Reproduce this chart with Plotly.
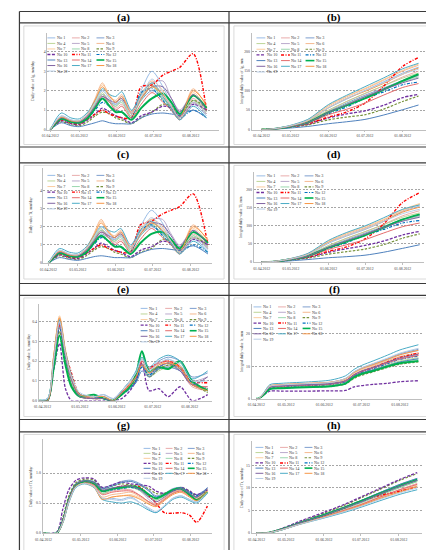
import plotly.graph_objects as go

W, H = 434, 550

SERIES = ["No 1", "No 2", "No 3", "No 4", "No 5", "No 6", "No 7", "No 8", "No 9", "No 10",
          "No 11", "No 12", "No 13", "No 14", "No 15", "No 16", "No 17", "No 18", "No 19"]
DATE_LABELS = ["01.04.2012", "01.05.2012", "01.06.2012", "01.07.2012", "01.08.2012"]

# ---------------- (a) daily Ig ----------------
X_A = [0, 9, 17, 24, 31, 37, 43, 49, 54, 59, 67, 75, 84, 93, 100, 107, 118, 129]
A_IG = [
    [0, 0.7, 0.5, 0.45, 0.8, 1.4, 2.0, 1.6, 1.3, 1.5, 0.9, 2.0, 3.0, 2.2, 1.3, 0.6, 1.3, 0.7],
    [0, 0.6, 0.4, 0.35, 0.6, 1.2, 1.8, 1.5, 1.1, 1.3, 0.7, 1.6, 2.3, 1.7, 1.1, 0.6, 1.6, 0.9],
    [0, 0.55, 0.4, 0.35, 0.6, 1.1, 1.6, 1.4, 1.3, 1.5, 0.8, 1.5, 2.0, 1.6, 1.2, 0.7, 1.4, 0.8],
    [0, 0.6, 0.45, 0.4, 0.7, 1.3, 1.9, 1.4, 1.2, 1.5, 0.6, 1.7, 2.3, 1.5, 1.0, 0.5, 1.5, 0.8],
    [0, 0.5, 0.35, 0.3, 0.6, 1.2, 1.8, 1.5, 1.4, 1.7, 0.9, 1.8, 2.4, 2.5, 1.6, 1.0, 1.8, 1.1],
    [0, 0.6, 0.4, 0.4, 0.8, 1.6, 2.4, 1.7, 1.5, 1.8, 0.9, 1.8, 2.5, 2.0, 1.2, 0.7, 2.1, 1.2],
    [0, 0.6, 0.45, 0.45, 0.8, 1.5, 2.3, 1.8, 1.4, 1.6, 0.8, 1.9, 2.4, 1.8, 1.1, 0.6, 1.9, 1.1],
    [0, 0.55, 0.4, 0.4, 0.7, 1.3, 1.8, 1.4, 1.2, 1.4, 0.7, 1.5, 2.2, 1.6, 1.1, 0.6, 1.5, 0.9],
    [0, 0.4, 0.25, 0.2, 0.4, 0.7, 0.9, 0.8, 0.6, 0.5, 0.3, 0.6, 0.9, 1.3, 1.2, 0.7, 1.5, 1.1],
    [0, 0.45, 0.3, 0.25, 0.5, 0.8, 1.1, 0.9, 0.7, 0.6, 0.35, 0.7, 0.9, 1.2, 1.1, 0.7, 1.3, 1.0],
    [0, 0.5, 0.35, 0.3, 0.55, 0.8, 1.0, 0.8, 0.7, 0.6, 0.6, 2.2, 2.3, 2.8, 3.0, 3.2, 3.9, 1.0],
    [0, 0.55, 0.4, 0.35, 0.6, 1.0, 1.4, 1.2, 1.0, 0.9, 0.6, 1.9, 2.1, 1.5, 1.0, 0.6, 1.0, 0.6],
    [0, 0.35, 0.2, 0.15, 0.25, 0.35, 0.45, 0.35, 0.3, 0.3, 0.3, 0.6, 0.8, 0.85, 0.8, 0.75, 1.0, 0.6],
    [0, 0.55, 0.4, 0.4, 0.7, 1.2, 1.7, 1.4, 1.0, 1.2, 0.6, 1.3, 1.9, 1.4, 1.0, 0.5, 1.4, 0.8],
    [0, 0.55, 0.4, 0.35, 0.6, 1.1, 1.6, 1.2, 0.9, 0.9, 0.5, 1.1, 1.6, 1.85, 1.4, 0.8, 1.75, 1.1],
    [0, 0.6, 0.45, 0.4, 0.7, 1.2, 1.7, 1.5, 1.4, 1.6, 0.8, 1.6, 2.2, 2.2, 1.6, 0.9, 1.8, 1.0],
    [0, 0.85, 0.6, 0.55, 0.9, 1.5, 2.1, 1.8, 1.7, 1.95, 1.0, 1.8, 2.4, 1.7, 1.1, 0.5, 1.2, 0.6],
    [0, 0.65, 0.45, 0.45, 0.8, 1.5, 2.2, 1.7, 1.4, 1.7, 0.8, 1.6, 2.2, 1.8, 1.2, 0.6, 2.0, 1.3],
    [0, 0.7, 0.5, 0.45, 0.8, 1.4, 2.0, 1.6, 1.3, 1.5, 0.8, 1.7, 2.6, 1.9, 1.2, 0.6, 1.4, 0.8],
]

# ---------------- (b) integral Ig ----------------
X_B = [0, 6, 15, 24, 38, 55, 70, 85, 100, 116, 129]
B_IG = [
    [0, 0.5, 4, 10, 22, 55, 78, 100, 122, 145, 160],
    [0, 0.5, 4, 9, 20, 48, 72, 92, 112, 135, 150],
    [0, 0.4, 3.5, 8, 19, 46, 68, 88, 106, 126, 140],
    [0, 0.5, 4, 9, 21, 50, 72, 93, 112, 132, 145],
    [0, 0.4, 3.5, 8, 18, 42, 64, 85, 105, 125, 138],
    [0, 0.5, 4.5, 10, 24, 60, 84, 104, 126, 150, 165],
    [0, 0.5, 4.5, 10, 25, 62, 86, 106, 128, 152, 168],
    [0, 0.4, 3.5, 8, 19, 45, 66, 85, 102, 122, 135],
    [0, 0.3, 2.5, 6, 12, 25, 32, 38, 52, 72, 86],
    [0, 0.3, 2.8, 7, 14, 30, 40, 48, 62, 82, 90],
    [0, 0.4, 3, 7, 15, 32, 45, 68, 110, 162, 185],
    [0, 0.4, 3.2, 8, 17, 40, 58, 80, 96, 115, 122],
    [0, 0.2, 1.5, 4, 8, 15, 20, 26, 37, 51, 63],
    [0, 0.4, 3.2, 7.5, 16, 38, 52, 68, 88, 108, 118],
    [0, 0.4, 3.5, 8, 18, 44, 62, 80, 102, 125, 142],
    [0, 0.4, 3.5, 8, 18, 44, 64, 84, 102, 120, 132],
    [0, 0.6, 5, 11, 26, 64, 88, 110, 132, 156, 170],
    [0, 0.5, 4, 9.5, 22, 56, 80, 98, 118, 142, 158],
    [0, 0.5, 4.2, 10, 23, 56, 80, 100, 120, 142, 155],
]

# ---------------- (c) daily Ti ----------------
X_C = [0, 9, 17, 24, 31, 37, 43, 49, 54, 59, 67, 75, 84, 93, 100, 107, 118, 130]
C_TI = [
    [0, 0.7, 0.5, 0.45, 0.8, 1.4, 2.0, 1.6, 1.3, 1.5, 0.9, 2.0, 2.9, 2.2, 1.3, 0.6, 1.3, 0.7],
    [0, 0.6, 0.4, 0.35, 0.6, 1.2, 1.8, 1.5, 1.1, 1.3, 0.7, 1.6, 2.3, 1.7, 1.1, 0.6, 1.6, 0.9],
    [0, 0.55, 0.4, 0.35, 0.6, 1.1, 1.6, 1.4, 1.3, 1.5, 0.8, 1.5, 2.0, 1.6, 1.2, 0.7, 1.4, 0.8],
    [0, 0.6, 0.45, 0.4, 0.7, 1.3, 1.9, 1.4, 1.2, 1.5, 0.6, 1.7, 2.2, 1.5, 1.0, 0.5, 1.5, 0.8],
    [0, 0.5, 0.35, 0.3, 0.6, 1.2, 1.8, 1.5, 1.4, 1.7, 0.9, 1.8, 2.4, 2.4, 1.6, 1.0, 1.8, 1.0],
    [0, 0.6, 0.4, 0.4, 0.8, 1.6, 2.4, 1.7, 1.5, 1.8, 0.9, 1.8, 2.4, 2.0, 1.2, 0.7, 2.1, 1.2],
    [0, 0.6, 0.45, 0.45, 0.8, 1.5, 2.3, 1.8, 1.4, 1.6, 0.8, 1.9, 2.4, 1.8, 1.1, 0.6, 1.9, 1.1],
    [0, 0.55, 0.4, 0.4, 0.7, 1.3, 1.8, 1.4, 1.2, 1.4, 0.7, 1.5, 2.1, 1.6, 1.1, 0.6, 1.5, 0.9],
    [0, 0.4, 0.25, 0.2, 0.4, 0.7, 0.9, 0.8, 0.6, 0.5, 0.3, 0.6, 0.8, 1.3, 1.2, 0.7, 1.4, 1.0],
    [0, 0.45, 0.3, 0.25, 0.5, 0.8, 1.1, 0.9, 0.7, 0.6, 0.35, 0.7, 0.9, 1.2, 1.1, 0.7, 1.3, 1.0],
    [0, 0.5, 0.35, 0.3, 0.55, 0.8, 1.0, 0.8, 0.7, 0.6, 0.6, 2.1, 2.3, 2.7, 2.9, 3.1, 3.8, 1.0],
    [0, 0.55, 0.4, 0.35, 0.6, 1.0, 1.4, 1.2, 1.0, 0.9, 0.6, 1.8, 2.1, 1.5, 1.0, 0.6, 1.0, 0.6],
    [0, 0.3, 0.2, 0.15, 0.25, 0.35, 0.4, 0.35, 0.3, 0.3, 0.3, 0.55, 0.75, 0.8, 0.75, 0.7, 0.95, 0.5],
    [0, 0.55, 0.4, 0.4, 0.7, 1.2, 1.7, 1.4, 1.0, 1.2, 0.6, 1.3, 1.9, 1.4, 1.0, 0.5, 1.4, 0.8],
    [0, 0.55, 0.4, 0.35, 0.6, 1.1, 1.5, 1.2, 0.9, 0.9, 0.5, 1.1, 1.6, 1.7, 1.3, 0.8, 1.7, 1.1],
    [0, 0.6, 0.45, 0.4, 0.7, 1.2, 1.7, 1.5, 1.4, 1.6, 0.8, 1.6, 2.2, 2.1, 1.5, 0.9, 1.8, 1.0],
    [0, 0.8, 0.6, 0.55, 0.9, 1.5, 2.0, 1.8, 1.7, 1.9, 1.0, 1.8, 2.3, 1.7, 1.1, 0.5, 1.2, 0.6],
    [0, 0.65, 0.45, 0.45, 0.8, 1.5, 2.2, 1.7, 1.4, 1.7, 0.8, 1.6, 2.2, 1.8, 1.2, 0.6, 2.0, 1.3],
    [0, 0.7, 0.5, 0.45, 0.8, 1.4, 2.0, 1.6, 1.3, 1.5, 0.8, 1.7, 2.5, 1.9, 1.2, 0.6, 1.4, 0.8],
]

# ---------------- (d) integral Ti ----------------
X_D = [0, 6, 15, 24, 38, 55, 70, 85, 100, 116, 130]
D_TI = [
    [0, 0.5, 4, 9, 20, 52, 72, 90, 112, 140, 155],
    [0, 0.5, 3.5, 8.5, 18, 45, 66, 84, 104, 128, 142],
    [0, 0.4, 3.2, 8, 17, 42, 62, 80, 98, 118, 130],
    [0, 0.5, 3.5, 8.5, 19, 46, 66, 84, 103, 124, 136],
    [0, 0.4, 3.2, 7.5, 16, 40, 58, 78, 96, 116, 128],
    [0, 0.5, 4, 9.5, 22, 56, 78, 95, 116, 142, 160],
    [0, 0.5, 4.2, 9.5, 23, 58, 80, 98, 118, 145, 162],
    [0, 0.4, 3.2, 7.5, 17, 42, 60, 78, 95, 114, 126],
    [0, 0.3, 2.2, 5.5, 11, 22, 29, 36, 48, 66, 78],
    [0, 0.3, 2.5, 6.5, 13, 27, 37, 46, 58, 75, 85],
    [0, 0.4, 2.8, 6.5, 14, 30, 42, 64, 104, 165, 192],
    [0, 0.4, 3, 7.5, 16, 37, 54, 74, 90, 108, 115],
    [0, 0.2, 1.4, 3.5, 7, 12, 15, 19, 27, 38, 48],
    [0, 0.4, 3, 7, 15, 35, 48, 62, 80, 98, 108],
    [0, 0.4, 3.2, 7.5, 17, 40, 57, 74, 95, 118, 132],
    [0, 0.4, 3.2, 7.5, 17, 41, 59, 77, 95, 113, 124],
    [0, 0.6, 4.5, 10, 24, 60, 82, 100, 122, 146, 158],
    [0, 0.5, 3.8, 9, 21, 54, 74, 92, 112, 138, 152],
    [0, 0.5, 3.8, 9, 21, 53, 74, 92, 112, 134, 146],
]

# ---------------- (e) daily Ie ----------------
X_E = [-10, -3, 2, 7, 12, 17, 24, 36, 44, 52, 59, 66, 71, 76, 82, 90, 98, 108, 118, 131]
E_IE = [
    [0, 0.01, 0.2, 0.39, 0.23, 0.11, 0.03, 0.01, 0.02, 0, 0.04, 0.09, 0.13, 0.2, 0.15, 0.18, 0.21, 0.16, 0.08, 0.07],
    [0, 0, 0.18, 0.38, 0.22, 0.1, 0.02, 0.01, 0.01, 0, 0.03, 0.07, 0.12, 0.19, 0.14, 0.16, 0.18, 0.15, 0.07, 0.05],
    [0, 0, 0.2, 0.4, 0.24, 0.12, 0.03, 0.02, 0.03, 0.01, 0.05, 0.1, 0.14, 0.2, 0.16, 0.2, 0.22, 0.2, 0.12, 0.14],
    [0, 0, 0.18, 0.37, 0.21, 0.09, 0.02, 0.01, 0.01, 0, 0.03, 0.07, 0.1, 0.18, 0.12, 0.15, 0.17, 0.16, 0.08, 0.06],
    [0, 0, 0.19, 0.38, 0.22, 0.1, 0.02, 0.02, 0.01, 0, 0.04, 0.08, 0.12, 0.17, 0.13, 0.17, 0.19, 0.17, 0.1, 0.12],
    [0, 0, 0.22, 0.42, 0.25, 0.12, 0.03, 0.02, 0.02, 0, 0.04, 0.09, 0.13, 0.21, 0.15, 0.19, 0.2, 0.18, 0.09, 0.06],
    [0, 0, 0.22, 0.43, 0.26, 0.13, 0.03, 0.02, 0.02, 0, 0.04, 0.08, 0.12, 0.19, 0.14, 0.18, 0.2, 0.17, 0.08, 0.05],
    [0, 0, 0.17, 0.35, 0.2, 0.09, 0.02, 0.02, 0.01, 0, 0.03, 0.07, 0.11, 0.22, 0.13, 0.16, 0.18, 0.19, 0.09, 0.05],
    [0, 0, 0.17, 0.35, 0.2, 0.08, 0.02, 0.01, 0.01, 0, 0.03, 0.07, 0.1, 0.18, 0.12, 0.16, 0.18, 0.17, 0.09, 0.04],
    [0, 0, 0.15, 0.29, 0.06, 0, 0, 0, 0, 0, 0.01, 0.05, 0.1, 0.19, 0.05, 0.06, 0.02, 0.07, 0.0, 0.03],
    [0, 0, 0.18, 0.38, 0.24, 0.14, 0.03, 0.02, 0.01, 0, 0.04, 0.08, 0.12, 0.2, 0.17, 0.19, 0.2, 0.17, 0.1, 0.09],
    [0, 0, 0.18, 0.37, 0.22, 0.11, 0.03, 0.02, 0.01, 0, 0.03, 0.06, 0.1, 0.17, 0.13, 0.17, 0.19, 0.16, 0.09, 0.06],
    [0, 0, 0.2, 0.41, 0.24, 0.12, 0.03, 0.02, 0.01, 0, 0.04, 0.06, 0.09, 0.15, 0.12, 0.16, 0.17, 0.15, 0.08, 0.05],
    [0, 0, 0.19, 0.39, 0.23, 0.11, 0.03, 0.01, 0.01, 0, 0.03, 0.08, 0.13, 0.2, 0.16, 0.19, 0.2, 0.16, 0.08, 0.07],
    [0, 0, 0.16, 0.33, 0.18, 0.07, 0.02, 0.03, 0.01, 0, 0.03, 0.07, 0.13, 0.25, 0.15, 0.17, 0.16, 0.2, 0.1, 0.05],
    [0, 0, 0.19, 0.39, 0.23, 0.11, 0.02, 0.01, 0.01, 0, 0.04, 0.08, 0.12, 0.18, 0.14, 0.17, 0.19, 0.15, 0.08, 0.12],
    [0, 0.01, 0.21, 0.41, 0.25, 0.13, 0.03, 0.02, 0.02, 0, 0.05, 0.1, 0.15, 0.22, 0.17, 0.21, 0.23, 0.2, 0.11, 0.15],
    [0, 0, 0.22, 0.42, 0.25, 0.12, 0.03, 0.02, 0.02, 0, 0.04, 0.08, 0.12, 0.18, 0.14, 0.18, 0.19, 0.17, 0.08, 0.05],
    [0, 0.01, 0.2, 0.4, 0.24, 0.12, 0.04, 0.02, 0.03, 0.01, 0.05, 0.1, 0.14, 0.21, 0.15, 0.19, 0.21, 0.18, 0.1, 0.1],
]

# ---------------- (f) integral Ie ----------------
X_F = [0, 2, 6, 11, 20, 40, 60, 72, 79, 85, 95, 106, 116, 131]
F_IE = [
    [0, 0, 1.5, 3.6, 4.0, 4.4, 4.9, 6.0, 8.0, 9.2, 10.5, 12.0, 13.5, 14.8],
    [0, 0, 1.4, 3.4, 3.8, 4.1, 4.5, 5.5, 7.4, 8.5, 9.8, 11.3, 12.6, 13.6],
    [0, 0, 1.5, 3.7, 4.1, 4.5, 5.0, 6.2, 8.2, 9.4, 10.8, 12.3, 13.8, 15.2],
    [0, 0, 1.3, 3.2, 3.5, 3.8, 4.2, 5.0, 6.8, 7.8, 9.0, 10.4, 11.6, 12.6],
    [0, 0, 1.4, 3.4, 3.7, 4.0, 4.4, 5.3, 7.1, 8.2, 9.4, 10.9, 12.1, 13.2],
    [0, 0, 1.6, 3.8, 4.2, 4.6, 5.0, 6.0, 7.9, 9.0, 10.3, 11.7, 13.0, 14.1],
    [0, 0, 1.6, 3.9, 4.3, 4.6, 5.0, 5.9, 7.8, 8.9, 10.1, 11.5, 12.8, 13.8],
    [0, 0, 1.3, 3.1, 3.4, 3.7, 4.0, 4.8, 6.5, 7.5, 8.7, 10.0, 11.2, 12.1],
    [0, 0, 1.2, 3.0, 3.3, 3.5, 3.8, 4.5, 6.2, 7.2, 8.3, 9.6, 10.6, 11.3],
    [0, 0, 1.1, 2.3, 2.3, 2.3, 2.4, 2.5, 3.6, 4.0, 4.4, 4.7, 5.2, 5.5],
    [0, 0, 1.4, 3.5, 3.9, 4.2, 4.5, 5.4, 7.2, 8.3, 9.7, 11.3, 12.7, 14.0],
    [0, 0, 1.4, 3.4, 3.7, 4.0, 4.4, 5.2, 7.0, 8.1, 9.3, 10.8, 12.1, 13.1],
    [0, 0, 1.5, 3.6, 4.0, 4.3, 4.6, 5.3, 7.0, 7.9, 8.9, 10.2, 11.3, 12.3],
    [0, 0, 1.4, 3.5, 3.8, 4.1, 4.5, 5.4, 7.3, 8.4, 9.6, 11.0, 12.2, 13.3],
    [0, 0, 1.2, 2.9, 3.2, 3.5, 3.8, 4.6, 6.6, 7.6, 8.6, 9.9, 10.9, 11.6],
    [0, 0, 1.5, 3.5, 3.9, 4.2, 4.6, 5.5, 7.4, 8.5, 9.7, 11.2, 12.5, 13.7],
    [0, 0, 1.8, 4.3, 4.7, 5.1, 5.7, 7.0, 9.0, 10.2, 11.7, 13.4, 15.0, 16.6],
    [0, 0, 1.6, 3.9, 4.3, 4.7, 5.1, 6.1, 8.1, 9.3, 10.6, 12.1, 13.5, 14.9],
    [0, 0, 1.6, 3.8, 4.2, 4.6, 5.0, 6.2, 8.3, 9.5, 10.9, 12.5, 14.0, 15.5],
]

# ---------------- (g) daily Ts ----------------
X_G = [-8, 4, 9, 14, 20, 27, 35, 42, 50, 58, 66, 74, 81, 87, 94, 101, 108, 115, 121, 130]
G_TS = [
    [0, 0, 0.18, 0.52, 0.78, 0.84, 0.78, 0.58, 0.58, 0.56, 0.6, 0.5, 0.4, 0.34, 0.45, 0.58, 0.62, 0.56, 0.52, 0.68],
    [0, 0, 0.2, 0.55, 0.8, 0.86, 0.82, 0.66, 0.7, 0.72, 0.72, 0.62, 0.52, 0.48, 0.58, 0.68, 0.72, 0.64, 0.58, 0.72],
    [0, 0, 0.22, 0.58, 0.83, 0.88, 0.86, 0.76, 0.8, 0.86, 0.88, 0.82, 0.72, 0.62, 0.66, 0.74, 0.76, 0.68, 0.64, 0.75],
    [0, 0, 0.2, 0.55, 0.8, 0.86, 0.82, 0.66, 0.72, 0.74, 0.76, 0.7, 0.6, 0.55, 0.62, 0.7, 0.74, 0.66, 0.6, 0.72],
    [0, 0, 0.21, 0.56, 0.82, 0.88, 0.84, 0.7, 0.74, 0.78, 0.78, 0.7, 0.56, 0.48, 0.56, 0.66, 0.72, 0.66, 0.6, 0.74],
    [0, 0, 0.19, 0.53, 0.79, 0.84, 0.78, 0.6, 0.64, 0.66, 0.68, 0.6, 0.52, 0.48, 0.58, 0.68, 0.72, 0.64, 0.58, 0.73],
    [0, 0, 0.19, 0.53, 0.78, 0.83, 0.76, 0.56, 0.6, 0.62, 0.64, 0.58, 0.5, 0.46, 0.56, 0.66, 0.7, 0.62, 0.56, 0.7],
    [0, 0, 0.2, 0.55, 0.8, 0.86, 0.82, 0.67, 0.72, 0.76, 0.77, 0.7, 0.6, 0.55, 0.62, 0.7, 0.74, 0.66, 0.6, 0.72],
    [0, 0, 0.26, 0.62, 0.84, 0.9, 0.88, 0.74, 0.78, 0.82, 0.8, 0.78, 0.74, 0.66, 0.66, 0.72, 0.76, 0.7, 0.62, 0.7],
    [0, 0.02, 0.4, 0.72, 0.88, 0.92, 0.9, 0.76, 0.8, 0.85, 0.82, 0.8, 0.78, 0.7, 0.66, 0.7, 0.76, 0.7, 0.64, 0.72],
    [0, 0, 0.2, 0.55, 0.8, 0.86, 0.82, 0.7, 0.74, 0.78, 0.78, 0.76, 0.62, 0.5, 0.34, 0.33, 0.34, 0.3, 0.18, 0.45],
    [0, 0, 0.2, 0.55, 0.8, 0.86, 0.83, 0.7, 0.72, 0.74, 0.76, 0.72, 0.64, 0.6, 0.64, 0.7, 0.74, 0.68, 0.62, 0.74],
    [0, 0, 0.21, 0.56, 0.81, 0.87, 0.85, 0.74, 0.78, 0.84, 0.86, 0.8, 0.7, 0.6, 0.64, 0.72, 0.76, 0.66, 0.6, 0.76],
    [0, 0, 0.2, 0.54, 0.79, 0.85, 0.8, 0.64, 0.68, 0.7, 0.7, 0.62, 0.52, 0.46, 0.56, 0.66, 0.7, 0.62, 0.56, 0.7],
    [0, 0, 0.2, 0.55, 0.8, 0.86, 0.83, 0.7, 0.74, 0.76, 0.78, 0.74, 0.64, 0.58, 0.64, 0.72, 0.74, 0.64, 0.55, 0.68],
    [0, 0, 0.21, 0.56, 0.81, 0.87, 0.84, 0.72, 0.75, 0.78, 0.78, 0.72, 0.6, 0.52, 0.6, 0.7, 0.74, 0.66, 0.6, 0.74],
    [0, 0, 0.17, 0.5, 0.76, 0.82, 0.76, 0.56, 0.52, 0.5, 0.52, 0.46, 0.38, 0.34, 0.44, 0.56, 0.6, 0.54, 0.5, 0.66],
    [0, 0, 0.18, 0.52, 0.78, 0.83, 0.77, 0.56, 0.6, 0.62, 0.62, 0.56, 0.48, 0.44, 0.54, 0.64, 0.68, 0.6, 0.54, 0.7],
    [0, 0, 0.18, 0.52, 0.77, 0.83, 0.77, 0.58, 0.56, 0.54, 0.58, 0.5, 0.42, 0.36, 0.46, 0.58, 0.62, 0.56, 0.52, 0.67],
]

# ---------------- (h) integral Ts ----------------
X_H = [0, 8, 20, 35, 56, 72, 86, 100, 117, 131]
H_TS = [
    [0, 0, 0.7, 2.0, 3.6, 4.9, 6.2, 7.6, 9.2, 10.4],
    [0, 0, 0.75, 2.1, 3.8, 5.2, 6.5, 8.0, 9.7, 11.0],
    [0, 0, 0.8, 2.3, 4.2, 5.8, 7.3, 8.9, 10.8, 12.1],
    [0, 0, 0.75, 2.1, 3.9, 5.4, 6.8, 8.3, 10.1, 11.4],
    [0, 0, 0.8, 2.2, 4.0, 5.5, 6.9, 8.4, 10.2, 11.6],
    [0, 0, 0.7, 2.0, 3.7, 5.0, 6.4, 7.8, 9.4, 10.7],
    [0, 0, 0.7, 2.0, 3.6, 4.9, 6.2, 7.6, 9.2, 10.5],
    [0, 0, 0.75, 2.1, 3.9, 5.4, 6.8, 8.3, 10.1, 11.4],
    [0, 0, 0.85, 2.4, 4.5, 6.2, 7.9, 9.6, 11.7, 13.2],
    [0, 0.02, 0.95, 2.6, 4.7, 6.4, 8.1, 9.8, 11.9, 13.4],
    [0, 0, 0.75, 2.2, 4.0, 5.6, 7.2, 8.3, 9.3, 10.2],
    [0, 0, 0.8, 2.2, 4.0, 5.6, 7.0, 8.6, 10.4, 11.8],
    [0, 0, 0.8, 2.3, 4.2, 5.8, 7.3, 8.9, 10.8, 12.1],
    [0, 0, 0.72, 2.0, 3.7, 5.1, 6.4, 7.9, 9.6, 10.8],
    [0, 0, 0.8, 2.2, 4.1, 5.7, 7.2, 8.7, 10.5, 11.8],
    [0, 0, 0.8, 2.2, 4.0, 5.6, 7.0, 8.6, 10.4, 11.7],
    [0, 0, 0.65, 1.9, 3.4, 4.6, 5.8, 7.1, 8.6, 9.6],
    [0, 0, 0.7, 1.95, 3.6, 4.9, 6.2, 7.6, 9.1, 10.3],
    [0, 0, 0.68, 1.95, 3.5, 4.8, 6.0, 7.4, 8.9, 10.0],
]

# ---------------- styles ----------------
COLORS = ["#8DB4E2", "#E6A3A3", "#6F93C8", "#B5D08B", "#B3A2C7", "#F4B183", "#FAC795", "#8ED3A6",
          "#77933C", "#7030A0", "#FF0000", "#0070C0", "#4F81BD", "#E46C6C", "#00B050", "#8064A2",
          "#4BACC6", "#F79646", "#B9CDE5"]
DD = "3px,1.5px,1px,1.5px"
DASHES = ["solid"] * 8 + ["2.5px,1.5px", "3px,1.5px", DD, DD] + ["solid"] * 7
WIDTHS = [0.9] * 8 + [1.2, 1.3, 1.4, 1.2] + [1.0, 1.0, 2.0, 1.0, 1.0, 1.0, 1.0]

T_COMP = [0, 24, 55, 85, 116]
T_UNIF = [-7.2, 24, 55, 85, 116]
SERIF = "Liberation Serif"

PANELS = [
    dict(tag="(a)", x=X_A, ys=A_IG, plot=(32, 207, 25, 122), xr=(-2.4, 139.5), xt=T_COMP,
         yr=(0, 4.97), yt=[0, 1, 2, 3, 4], yl=["0", "1", "2", "3", "4"],
         ytitle="Daily value of Ig, mm/day", ytx=18, leg=(32, 30, 25, 5.55, 8)),
    dict(tag="(b)", x=X_B, ys=B_IG, plot=(240, 421, 25, 122), xr=(-8.1, 137.8), xt=T_COMP,
         yr=(0, 248), yt=[0, 50, 100, 150, 200], yl=["0", "50", "100", "150", "200"],
         ytitle="Integral daily value of Ig, mm", ytx=230, leg=(245, 30, 25, 5.7, 9)),
    dict(tag="(c)", x=X_C, ys=C_TI, plot=(28, 200, 161, 256), xr=(-4, 133.6), xt=T_COMP,
         yr=(0, 5.2), yt=[0, 1, 2, 3, 4], yl=["0", "1", "2", "3", "4"],
         ytitle="Daily value Ti, mm/day", ytx=16, leg=(32, 168, 25, 5.6, 8)),
    dict(tag="(d)", x=X_D, ys=D_TI, plot=(242, 416, 165, 255), xr=(-6.7, 133.8), xt=T_COMP,
         yr=(0, 248), yt=[0, 50, 100, 150, 200], yl=["0", "50", "100", "150", "200"],
         ytitle="Integral daily value Ti, mm", ytx=229, leg=(245, 168.5, 24.5, 5.55, 9)),
    dict(tag="(e)", x=X_E, ys=E_IE, plot=(23, 200, 297, 394), xr=(-10.5, 134.9), xt=T_UNIF,
         yr=(0, 0.49), yt=[0, 0.1, 0.2, 0.3, 0.4], yl=["0.0", "0.1", "0.2", "0.3", "0.4"],
         ytitle="Daily value Ie, mm/day", ytx=14, leg=(127, 301.5, 25, 5.6, 7)),
    dict(tag="(f)", x=X_F, ys=F_IE, plot=(240, 414, 297, 392), xr=(-3.8, 134.2), xt=T_COMP,
         yr=(0, 29.2), yt=[0, 10, 20], yl=["0", "10", "20"],
         ytitle="Integral daily value Ie, mm", ytx=231, leg=(242, 300, 25, 5.4, 8)),
    dict(tag="(g)", x=X_G, ys=G_TS, plot=(27, 200, 433, 527), xr=(-8, 134.1), xt=T_UNIF,
         yr=(0, 1.56), yt=[0, 0.5, 1.0], yl=["0.0", "0.5", "1.0"],
         ytitle="Daily value of Ts, mm/day", ytx=16, leg=(130, 442, 22.5, 5.0, 7)),
    dict(tag="(h)", x=X_H, ys=H_TS, plot=(240, 414, 435, 527), xr=(-4, 135.2), xt=T_COMP,
         yr=(0, 20.3), yt=[0, 5, 10, 15], yl=["0", "5", "10", "15"],
         ytitle="Daily value of Ts, mm/day", ytx=230, leg=(244, 441, 25, 5.2, 8)),
]

TITLE_Y = [9.5, 9.5, 147.5, 147.5, 282.5, 282.5, 419, 419]
FRAMES = [(8, 212, 18, 137), (222, 426, 18, 137), (8, 212, 158, 272), (222, 426, 158, 272),
          (8, 212, 291, 410), (222, 426, 291, 410), (8, 212, 428, 545), (222, 426, 428, 545)]


def fx(px):
    return px / W


def fy(py):
    return 1 - py / H


fig = go.Figure()
layout = dict(width=W, height=H, margin=dict(l=0, r=0, t=0, b=0),
              paper_bgcolor="white", plot_bgcolor="white", showlegend=False)
shapes = []
annotations = []

# table grid lines
for yy in [3.5, 15, 139.5, 155.5, 276.5, 288.5, 413, 425.5, 547.5]:
    shapes.append(dict(type="line", xref="paper", yref="paper", x0=fx(3.5), x1=fx(430.5),
                       y0=fy(yy), y1=fy(yy), line=dict(color="#3A3A3A", width=1.2)))
for xx in [3.5, 217, 430.5]:
    shapes.append(dict(type="line", xref="paper", yref="paper", x0=fx(xx), x1=fx(xx),
                       y0=fy(3.5), y1=fy(547.5), line=dict(color="#3A3A3A", width=1.2)))
for (l, r, t, b) in FRAMES:
    shapes.append(dict(type="rect", xref="paper", yref="paper", x0=fx(l), x1=fx(r),
                       y0=fy(b), y1=fy(t), line=dict(color="#D0D0D0", width=0.8)))

for i, P in enumerate(PANELS):
    sfx = "" if i == 0 else str(i + 1)
    l, r, t, b = P["plot"]
    for s in range(len(SERIES)):
        fig.add_trace(go.Scatter(
            x=P["x"], y=P["ys"][s], mode="lines", name=SERIES[s],
            line=dict(color=COLORS[s], width=WIDTHS[s], dash=DASHES[s], shape="spline", smoothing=0.8),
            xaxis="x" + sfx, yaxis="y" + sfx, hoverinfo="skip"))
    layout["xaxis" + sfx] = dict(
        domain=[fx(l), fx(r)], range=list(P["xr"]), anchor="y" + sfx,
        tickmode="array", tickvals=P["xt"], ticktext=DATE_LABELS,
        showgrid=False, zeroline=False, showline=True, linecolor="#BFBFBF", linewidth=0.8,
        ticks="outside", ticklen=2, tickcolor="#BFBFBF", tickwidth=0.6,
        tickfont=dict(family=SERIF, size=3.8, color="#404040"), fixedrange=True)
    layout["yaxis" + sfx] = dict(
        domain=[fy(b), fy(t)], range=list(P["yr"]), anchor="x" + sfx,
        tickmode="array", tickvals=P["yt"], ticktext=P["yl"],
        showgrid=True, gridcolor="#A6A6A6", gridwidth=0.5, griddash="2px,1.5px",
        zeroline=False, showline=True, linecolor="#BFBFBF", linewidth=0.8,
        ticks="", tickfont=dict(family=SERIF, size=3.8, color="#404040"), fixedrange=True)
    # y axis title
    annotations.append(dict(xref="paper", yref="paper", x=fx(P["ytx"]), y=fy((t + b) / 2),
                            text=P["ytitle"], textangle=-90, showarrow=False,
                            xanchor="center", yanchor="middle",
                            font=dict(family=SERIF, size=3.8, color="#404040")))
    # panel tag
    cx = 110 if i % 2 == 0 else 324
    annotations.append(dict(xref="paper", yref="paper", x=fx(cx), y=fy(TITLE_Y[i]),
                            text="<b>" + P["tag"] + "</b>", showarrow=False,
                            xanchor="center", yanchor="middle",
                            font=dict(family=SERIF, size=11, color="black")))
    # legend (3 columns, row-major)
    x0, y0, dc, dr, L = P["leg"]
    for s in range(len(SERIES)):
        row, col = divmod(s, 3)
        lx = x0 + col * dc
        ly = y0 + row * dr
        shapes.append(dict(type="line", xref="paper", yref="paper", x0=fx(lx), x1=fx(lx + L),
                           y0=fy(ly), y1=fy(ly),
                           line=dict(color=COLORS[s], width=min(WIDTHS[s], 1.6), dash=DASHES[s])))
        annotations.append(dict(xref="paper", yref="paper", x=fx(lx + L + 0.5), y=fy(ly),
                                text=SERIES[s], showarrow=False, xanchor="left", yanchor="middle",
                                borderpad=0, font=dict(family=SERIF, size=4.2, color="#404040")))

layout["shapes"] = shapes
layout["annotations"] = annotations
fig.update_layout(**layout)
fig.write_html("out.html")
